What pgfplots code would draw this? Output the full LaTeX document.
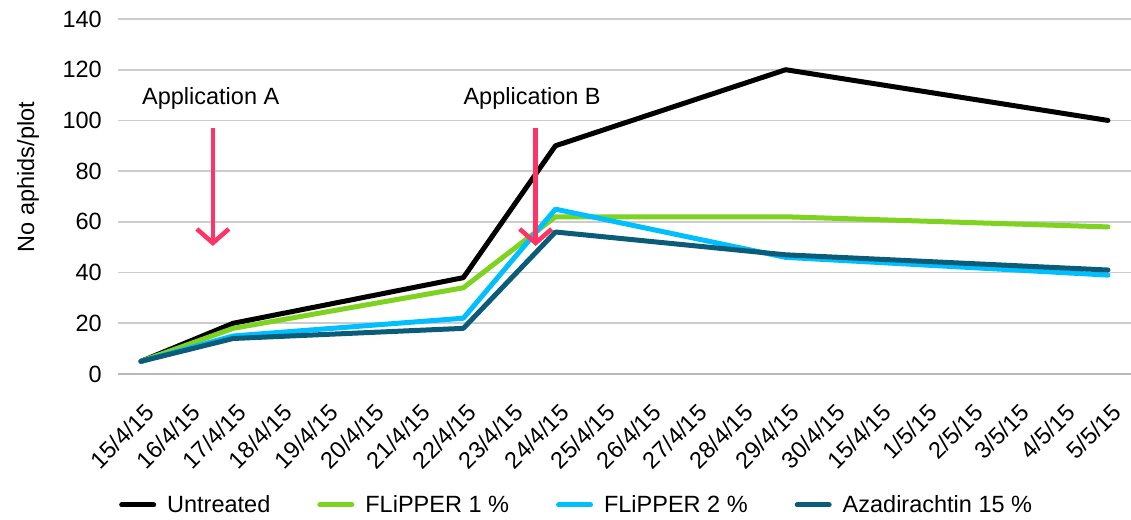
\documentclass[border=0pt]{standalone}
\usepackage{pgfplots}
\pgfplotsset{compat=1.18}
\usepackage{fontspec}
\setmainfont{Liberation Sans}
\usetikzlibrary{arrows.meta}

\definecolor{cUntr}{HTML}{000000}
\definecolor{cFl1}{HTML}{7ED321}
\definecolor{cFl2}{HTML}{00BFFF}
\definecolor{cAza}{HTML}{0B5C78}
\definecolor{cArrow}{HTML}{FF3366}
\definecolor{cGrid}{HTML}{CCCCCC}

\begin{document}
\begin{tikzpicture}
    \begin{axis}[
            at={(0,0)}, anchor=south west,
            scale only axis,
            width=1013pt,
            height=355pt,
            font=\fontsize{23.5}{26}\selectfont,
            /pgf/number format/assume math mode=true,
            xmin=-0.5, xmax=21.5,
            ymin=0, ymax=140,
            ytick={0,20,...,140},
            xtick={0,...,21},
            xticklabels={15/4/15,16/4/15,17/4/15,18/4/15,19/4/15,20/4/15,21/4/15,22/4/15,23/4/15,24/4/15,25/4/15,26/4/15,27/4/15,28/4/15,29/4/15,30/4/15,15/4/15,1/5/15,2/5/15,3/5/15,4/5/15,5/5/15},
            major tick length=0pt,
            axis y line*=left,
            y axis line style={draw=none},
            axis x line*=bottom,
            x axis line style={cGrid!90!black, line width=2.5pt, -},
            ymajorgrids,
            grid style={cGrid, line width=1.6pt},
            yticklabel style={anchor=east, inner sep=0pt, xshift=-16pt},
            xticklabel style={rotate=45, anchor=north east, inner sep=0pt, yshift=-22pt, xshift=-18pt},
            ylabel={No aphids/plot},
            ylabel style={at={(axis description cs:-0.0889,0.555)}, anchor=center},
            legend style={at={(axis description cs:-0.002,-0.369)}, anchor=west,
                draw=none, fill=none, legend columns=4,
                nodes={inner sep=0pt, anchor=west},
                /tikz/every odd column/.style={column sep=11pt},
                /tikz/every even column/.style={column sep=47pt}},
            legend image code/.code={\draw[#1, line cap=round] (1.5pt,0pt) -- (33.5pt,0pt);},
            every axis plot/.append style={line width=5pt, line cap=round, line join=round},
            clip=false
        ]
        \addplot[color=cUntr] coordinates {
                (0,5) (2,20) (7,38) (9,90) (14,120) (21,100)
        };
        \addlegendentry{Untreated}
        \addplot[color=cFl1] coordinates {
                (0,5) (2,18) (7,34) (9,62) (14,62) (21,58)
        };
        \addlegendentry{FLiPPER 1 \%}
        \addplot[color=cFl2] coordinates {
                (0,5) (2,15) (7,22) (9,65) (14,46) (21,39)
        };
        \addlegendentry{FLiPPER 2 \%}
        \addplot[color=cAza] coordinates {
                (0,5) (2,14) (7,18) (9,56) (14,47) (21,41)
        };
        \addlegendentry{Azadirachtin 15 \%}

        \node[anchor=west, inner sep=0pt] at (axis cs:0.02,108.8) {Application A};
        \node[anchor=west, inner sep=0pt] at (axis cs:7.0,108.8) {Application B};
        \draw[cArrow, line width=4.5pt, -{Straight Barb[length=14pt, width=32pt]}]
            (axis cs:1.56,97) -- (axis cs:1.56,50.5);
        \draw[cArrow, line width=4.5pt, -{Straight Barb[length=14pt, width=32pt]}]
            (axis cs:8.57,97) -- (axis cs:8.57,50.5);
    \end{axis}
    \pgfresetboundingbox
    \path[use as bounding box] (-118pt,-145pt) rectangle (1013pt,374pt);
\end{tikzpicture}
\end{document}
